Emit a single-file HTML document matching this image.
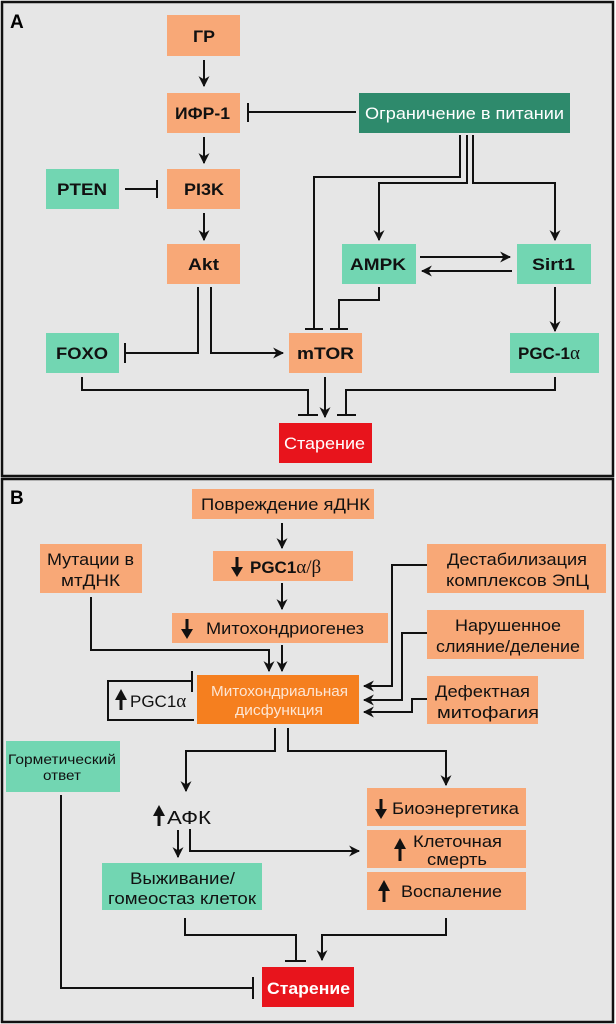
<!DOCTYPE html>
<html><head><meta charset="utf-8"><style>
html,body{margin:0;padding:0;background:#fff;}
svg{display:block;}
text{font-family:"Liberation Sans","DejaVu Sans",sans-serif;}
.b{font-weight:bold;font-size:17px;fill:#111;}
.n{font-size:17px;fill:#111;}
</style></head><body>
<svg width="616" height="1024" viewBox="0 0 616 1024" xmlns="http://www.w3.org/2000/svg">
<defs>
<marker id="ar" viewBox="0 0 10 10" refX="9" refY="5" markerWidth="11" markerHeight="11" markerUnits="userSpaceOnUse" orient="auto"><path d="M0,0 L10,5 L0,10 L3,5 z" fill="#111"/></marker>
</defs>
<rect x="0" y="0" width="616" height="1024" fill="#fff"/>
<rect x="2" y="2" width="611" height="474" fill="#e6e6e6" stroke="#111" stroke-width="2.5"/>
<rect x="2" y="479" width="611" height="543" fill="#e6e6e6" stroke="#111" stroke-width="2.5"/>
<text x="10" y="28" style="font-weight:bold;font-size:19px">A</text>
<text x="10" y="504" style="font-weight:bold;font-size:19px">B</text>

<g stroke="#111" stroke-width="2" fill="none">
<line x1="204" y1="60" x2="204" y2="86" marker-end="url(#ar)"/>
<line x1="204" y1="137" x2="204" y2="163" marker-end="url(#ar)"/>
<line x1="204" y1="213" x2="204" y2="240" marker-end="url(#ar)"/>
<line x1="356" y1="112" x2="248" y2="112"/><line x1="248" y1="103" x2="248" y2="122"/>
<line x1="125" y1="189" x2="157" y2="189"/><line x1="157" y1="180" x2="157" y2="198"/>
<polyline points="198,287 198,353 125,353"/><line x1="125" y1="343" x2="125" y2="363"/>
<polyline points="211,287 211,353 283,353" marker-end="url(#ar)"/>
<polyline points="460,135 460,177 314,177 314,329"/><line x1="305" y1="329" x2="323" y2="329"/>
<polyline points="467,135 467,183 379,183 379,240" marker-end="url(#ar)"/>
<polyline points="473,135 473,183 555,183 555,240" marker-end="url(#ar)"/>
<line x1="420" y1="257" x2="510" y2="257" marker-end="url(#ar)"/>
<line x1="512" y1="271" x2="422" y2="271" marker-end="url(#ar)"/>
<polyline points="379,287 379,300 339,300 339,329"/><line x1="330" y1="329" x2="348" y2="329"/>
<line x1="555" y1="287" x2="555" y2="331" marker-end="url(#ar)"/>
<line x1="325" y1="377" x2="325" y2="417" marker-end="url(#ar)"/>
<polyline points="82,377 82,390 308,390 308,415"/><line x1="298" y1="415" x2="318" y2="415"/>
<polyline points="555,377 555,390 346,390 346,415"/><line x1="337" y1="415" x2="356" y2="415"/>

<line x1="282" y1="523" x2="282" y2="548" marker-end="url(#ar)"/>
<line x1="282" y1="583" x2="282" y2="609" marker-end="url(#ar)"/>
<polyline points="91,597 91,650 269,650 269,671" marker-end="url(#ar)"/>
<line x1="282" y1="645" x2="282" y2="671" marker-end="url(#ar)"/>
<polyline points="427,565 392,565 392,686 364,686" marker-end="url(#ar)"/>
<polyline points="427,633 402,633 402,700 364,700" marker-end="url(#ar)"/>
<polyline points="427,699 412,699 412,712 364,712" marker-end="url(#ar)"/>
<polyline points="192,681 108,681 108,720 194,720"/><line x1="192" y1="671" x2="192" y2="692"/>
<polyline points="275,728 275,751 186,751 186,791" marker-end="url(#ar)"/>
<polyline points="288,728 288,751 446,751 446,785" marker-end="url(#ar)"/>
<line x1="178" y1="830" x2="178" y2="857" marker-end="url(#ar)"/>
<polyline points="190,829 190,851 359,851" marker-end="url(#ar)"/>
<polyline points="61,795 61,988 253,988"/><line x1="253" y1="977" x2="253" y2="999"/>
<polyline points="185,918 185,935 296,935 296,961"/><line x1="285" y1="961" x2="306" y2="961"/>
<polyline points="446,918 446,935 322,935 322,960" marker-end="url(#ar)"/>
</g>

<g>
<rect x="167" y="15" width="73" height="41" fill="#f8a877"/>
<text x="193" y="42" class="b" textLength="22" lengthAdjust="spacingAndGlyphs">ГР</text>
<rect x="167" y="93" width="73" height="40" fill="#f8a877"/>
<text x="175" y="119" class="b" textLength="55" lengthAdjust="spacingAndGlyphs">ИФР-1</text>
<rect x="359" y="93" width="211" height="40" fill="#2e8a6c"/>
<text x="365" y="119" style="font-size:17px;fill:#fff" textLength="199" lengthAdjust="spacingAndGlyphs">Ограничение в питании</text>
<rect x="46" y="169" width="73" height="40" fill="#72d6b2"/>
<text x="57" y="195" class="b" textLength="50" lengthAdjust="spacingAndGlyphs">PTEN</text>
<rect x="167" y="169" width="73" height="40" fill="#f8a877"/>
<text x="184" y="195" class="b" textLength="40" lengthAdjust="spacingAndGlyphs">PI3K</text>
<rect x="167" y="244" width="73" height="40" fill="#f8a877"/>
<text x="188" y="270" class="b" textLength="31" lengthAdjust="spacingAndGlyphs">Akt</text>
<rect x="342" y="244" width="74" height="40" fill="#72d6b2"/>
<text x="350" y="270" class="b" textLength="56" lengthAdjust="spacingAndGlyphs">AMPK</text>
<rect x="517" y="244" width="74" height="40" fill="#72d6b2"/>
<text x="532" y="270" class="b" textLength="43" lengthAdjust="spacingAndGlyphs">Sirt1</text>
<rect x="46" y="333" width="73" height="40" fill="#72d6b2"/>
<text x="56" y="359" class="b" textLength="52" lengthAdjust="spacingAndGlyphs">FOXO</text>
<rect x="289" y="333" width="73" height="40" fill="#f8a877"/>
<text x="297" y="359" class="b" textLength="57" lengthAdjust="spacingAndGlyphs">mTOR</text>
<rect x="510" y="333" width="89" height="40" fill="#72d6b2"/>
<text x="518" y="359" class="b">PGC-1<tspan style="font-family:'Liberation Serif',serif;font-weight:normal;font-size:19px">α</tspan></text>
<rect x="279" y="423" width="93" height="40" fill="#e8141c"/>
<text x="284" y="449" style="font-size:17px;fill:#fff" textLength="81" lengthAdjust="spacingAndGlyphs">Старение</text>
</g>

<g>
<rect x="192" y="489" width="182" height="30" fill="#f8a877"/>
<text x="201" y="510" class="n" textLength="169" lengthAdjust="spacingAndGlyphs">Повреждение яДНК</text>
<rect x="213" y="551" width="140" height="30" fill="#f8a877"/>
<text x="250" y="573" class="b">PGC1<tspan style="font-family:'Liberation Serif',serif;font-weight:normal;font-size:19px">α/β</tspan></text>
<rect x="172" y="613" width="216" height="30" fill="#f8a877"/>
<text x="206" y="634" class="n" textLength="158" lengthAdjust="spacingAndGlyphs">Митохондриогенез</text>
<rect x="40" y="544" width="102" height="49" fill="#f8a877"/>
<text x="47" y="565" class="n" textLength="87" lengthAdjust="spacingAndGlyphs">Мутации в</text>
<text x="61" y="586" class="n" textLength="59" lengthAdjust="spacingAndGlyphs">мтДНК</text>
<rect x="427" y="544" width="179" height="49" fill="#f8a877"/>
<text x="447" y="565" class="n" textLength="140" lengthAdjust="spacingAndGlyphs">Дестабилизация</text>
<text x="446" y="586" class="n" textLength="143" lengthAdjust="spacingAndGlyphs">комплексов ЭпЦ</text>
<rect x="427" y="610" width="157" height="49" fill="#f8a877"/>
<text x="455" y="631" class="n" textLength="106" lengthAdjust="spacingAndGlyphs">Нарушенное</text>
<text x="436" y="652" class="n" textLength="144" lengthAdjust="spacingAndGlyphs">слияние/деление</text>
<rect x="197" y="675" width="162" height="49" fill="#f57f1f"/>
<text x="211" y="696" style="font-size:15px;fill:#fde6d4" textLength="137" lengthAdjust="spacingAndGlyphs">Митохондриальная</text>
<text x="235" y="715" style="font-size:15px;fill:#fde6d4" textLength="88" lengthAdjust="spacingAndGlyphs">дисфункция</text>
<rect x="427" y="676" width="111" height="48" fill="#f8a877"/>
<text x="435" y="697" class="n" textLength="95" lengthAdjust="spacingAndGlyphs">Дефектная</text>
<text x="437" y="718" class="n" textLength="102" lengthAdjust="spacingAndGlyphs">митофагия</text>
<text x="130" y="707" class="n">PGC1<tspan style="font-family:'Liberation Serif',serif;font-size:19px">α</tspan></text>
<rect x="6" y="741" width="114" height="51" fill="#72d6b2"/>
<text x="8" y="764" style="font-size:14px;fill:#111" textLength="108" lengthAdjust="spacingAndGlyphs">Горметический</text>
<text x="43" y="780" style="font-size:14px;fill:#111" textLength="38" lengthAdjust="spacingAndGlyphs">ответ</text>
<text x="167" y="824" style="font-size:18px;fill:#111" textLength="44" lengthAdjust="spacingAndGlyphs">АФК</text>
<rect x="367" y="788" width="159" height="38" fill="#f8a877"/>
<text x="392" y="814" class="n" textLength="127" lengthAdjust="spacingAndGlyphs">Биоэнергетика</text>
<rect x="367" y="830" width="159" height="38" fill="#f8a877"/>
<text x="413" y="847" class="n" textLength="89" lengthAdjust="spacingAndGlyphs">Клеточная</text>
<text x="427" y="865" class="n" textLength="60" lengthAdjust="spacingAndGlyphs">смерть</text>
<rect x="367" y="872" width="159" height="38" fill="#f8a877"/>
<text x="401" y="897" class="n" textLength="101" lengthAdjust="spacingAndGlyphs">Воспаление</text>
<rect x="102" y="863" width="160" height="47" fill="#72d6b2"/>
<text x="130" y="884" class="n" textLength="105" lengthAdjust="spacingAndGlyphs">Выживание/</text>
<text x="108" y="904" class="n" textLength="148" lengthAdjust="spacingAndGlyphs">гомеостаз клеток</text>
<rect x="262" y="967" width="92" height="40" fill="#e8141c"/>
<text x="267" y="994" style="font-size:17px;font-weight:bold;fill:#fff" textLength="83" lengthAdjust="spacingAndGlyphs">Старение</text>
</g>

<g fill="#111" stroke="#111" stroke-width="3">
<line x1="237" y1="557" x2="237" y2="568"/><polygon stroke="none" points="231,567 243,567 237,577"/>
<line x1="187" y1="619" x2="187" y2="630"/><polygon stroke="none" points="181,629 193,629 187,639"/>
<line x1="121" y1="699" x2="121" y2="710"/><polygon stroke="none" points="115,700 127,700 121,689"/>
<line x1="159" y1="815" x2="159" y2="826"/><polygon stroke="none" points="153,816 165,816 159,805"/>
<line x1="381" y1="799" x2="381" y2="810"/><polygon stroke="none" points="375,809 387,809 381,819"/>
<line x1="400" y1="848" x2="400" y2="861"/><polygon stroke="none" points="394,849 406,849 400,838"/>
<line x1="384" y1="890" x2="384" y2="902"/><polygon stroke="none" points="378,891 390,891 384,880"/>
</g>
</svg>
</body></html>
